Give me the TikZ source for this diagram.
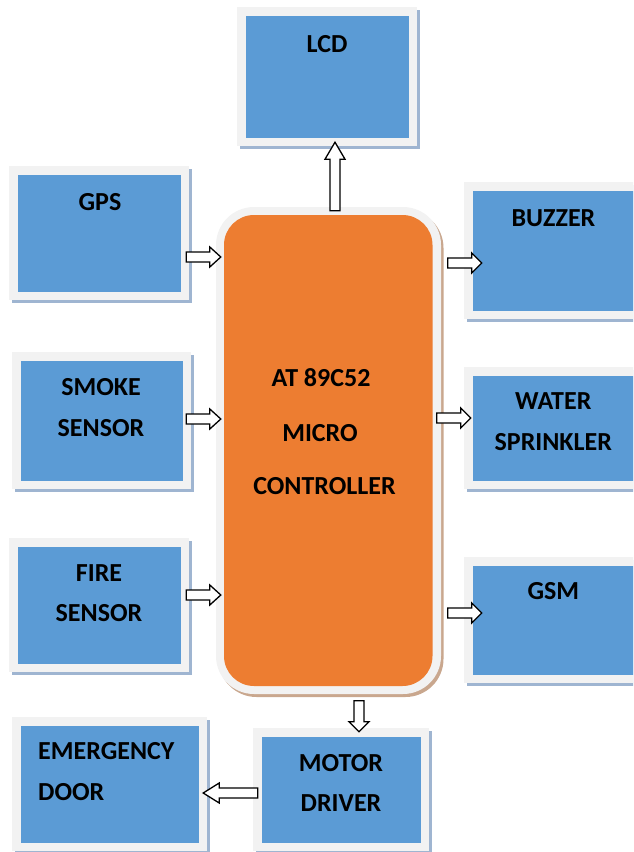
\documentclass[tikz,border=0pt]{standalone}
\usepackage{fontspec}
\setmainfont{Carlito}
\usetikzlibrary{calc,shadows}
\definecolor{boxblue}{HTML}{5B9BD5}
\definecolor{mcorange}{HTML}{ED7D31}
\definecolor{framegray}{HTML}{F2F2F2}
\definecolor{shadowblue}{HTML}{9FB5D1}
\definecolor{shadowbrown}{HTML}{C9A78E}
\begin{document}
\begin{tikzpicture}[x=1pt,y=-1pt,
  bluebox/.style={rectangle, inner sep=0pt, fill=framegray,
    drop shadow={shadow xshift=2.5pt, shadow yshift=-3pt, fill=shadowblue, opacity=1},
    path picture={\fill[boxblue] ([xshift=8.5pt,yshift=-8.5pt]path picture bounding box.north west)
        rectangle ([xshift=-8.5pt,yshift=8.5pt]path picture bounding box.south east);}},
  mcbox/.style={rectangle, inner sep=0pt, fill=framegray, rounded corners=38pt,
    drop shadow={shadow xshift=2.5pt, shadow yshift=-3pt, fill=shadowbrown, opacity=1},
    path picture={\fill[mcorange, rounded corners=30pt] ([xshift=8pt,yshift=-8pt]path picture bounding box.north west)
        rectangle ([xshift=-8.5pt,yshift=8pt]path picture bounding box.south east);}},
  lbl/.style={font=\bfseries\fontsize{26}{30}\selectfont, anchor=base, inner sep=0pt},
  blockarrow/.style={draw=black, fill=white, line width=1.3pt, line join=miter,
    to path={
      let \p1=(\tikztostart), \p2=(\tikztotarget),
          \n1={atan2(\y2-\y1,\x2-\x1)}, \n2={veclen(\x2-\x1,\y2-\y1)} in
      {[shift={(\p1)}, rotate=\n1]
        (0,-5) -- ({\n2-#1},-5) -- ({\n2-#1},-10) -- (\n2,0) -- ({\n2-#1},10) -- ({\n2-#1},5) -- (0,5) -- cycle}
    }},
  blockarrow/.default=11
]
\useasboundingbox (0,0) rectangle (633,852);
\clip (0,0) rectangle (633,852);

% boxes
\node[bluebox, minimum width=180pt, minimum height=139pt] (lcd) at (327,76.5) {};
\node[bluebox, minimum width=180pt, minimum height=134pt] (gps) at (99,233) {};
\node[bluebox, minimum width=179pt, minimum height=137pt] (smoke) at (101.5,420.5) {};
\node[bluebox, minimum width=180pt, minimum height=134pt] (fire) at (99,605) {};
\node[bluebox, minimum width=195pt, minimum height=134pt] (emerg) at (109.5,784) {};
\node[bluebox, minimum width=176pt, minimum height=123pt] (motor) at (341,789.5) {};
\node[bluebox, minimum width=186pt, minimum height=137pt] (buzzer) at (557,250.5) {};
\node[bluebox, minimum width=186pt, minimum height=122pt] (water) at (557,428) {};
\node[bluebox, minimum width=186pt, minimum height=126pt] (gsm) at (557,620) {};
\node[mcbox, minimum width=225pt, minimum height=487pt] (mc) at (328.5,450.5) {};

% arrows
\coordinate (g1) at ($(gps.east)+(-3,24)$);
\coordinate (s1) at ($(smoke.east)+(-5,-1.5)$);
\coordinate (f1) at ($(fire.east)+(-3,-10)$);
\draw[blockarrow=17] ($(mc.north)+(6.5,4)$) to ($(lcd.south)+(8,-4)$);
\draw[blockarrow] (g1) to ($(g1 -| mc.west)+(5,0)$);
\draw[blockarrow] (s1) to ($(s1 -| mc.west)+(5,0)$);
\draw[blockarrow] (f1) to ($(f1 -| mc.west)+(5,0)$);
\draw[blockarrow=10] ($(buzzer.west)+(-16,12.5)$) to ($(buzzer.west)+(18,12.5)$);
\draw[blockarrow=10] ($(water.west)+(-27,-10)$) to ($(water.west)+(7,-10)$);
\draw[blockarrow=10] ($(gsm.west)+(-16,-7)$) to ($(gsm.west)+(18,-7)$);
\draw[blockarrow=10] ($(motor.north)+(18,-27)$) to ($(motor.north)+(18,4)$);
\draw[blockarrow=16] ($(motor.west)+(5,3.5)$) to ($(emerg.east)+(-4,9)$);

% texts
\node[lbl] (lcd-t) at (327,52) {LCD};
\node[lbl] (gps-t) at (100,210) {GPS};
\node[lbl] (smoke-t1) at (101,395) {SMOKE};
\node[lbl] (smoke-t2) at (101,436.5) {SENSOR};
\node[lbl] (fire-t1) at (99,581.5) {FIRE};
\node[lbl] (fire-t2) at (99,621.5) {SENSOR};
\node[lbl] (buzzer-t) at (553.5,226) {BUZZER};
\node[lbl] (water-t1) at (553.3,409) {WATER};
\node[lbl] (water-t2) at (553.3,450) {SPRINKLER};
\node[lbl] (gsm-t) at (553.3,599) {GSM};
\node[lbl] (mc-t1) at (321,386) {AT 89C52};
\node[lbl] (mc-t2) at (320,441) {MICRO};
\node[lbl] (mc-t3) at (324.5,494) {CONTROLLER};
\node[lbl, anchor=base west] (em-t1) at (38,759.3) {EMERGENCY};
\node[lbl, anchor=base west] (em-t2) at (38,800) {DOOR};
\node[lbl] (motor-t1) at (341,771.5) {MOTOR};
\node[lbl] (motor-t2) at (341,811.5) {DRIVER};
\end{tikzpicture}
\end{document}
